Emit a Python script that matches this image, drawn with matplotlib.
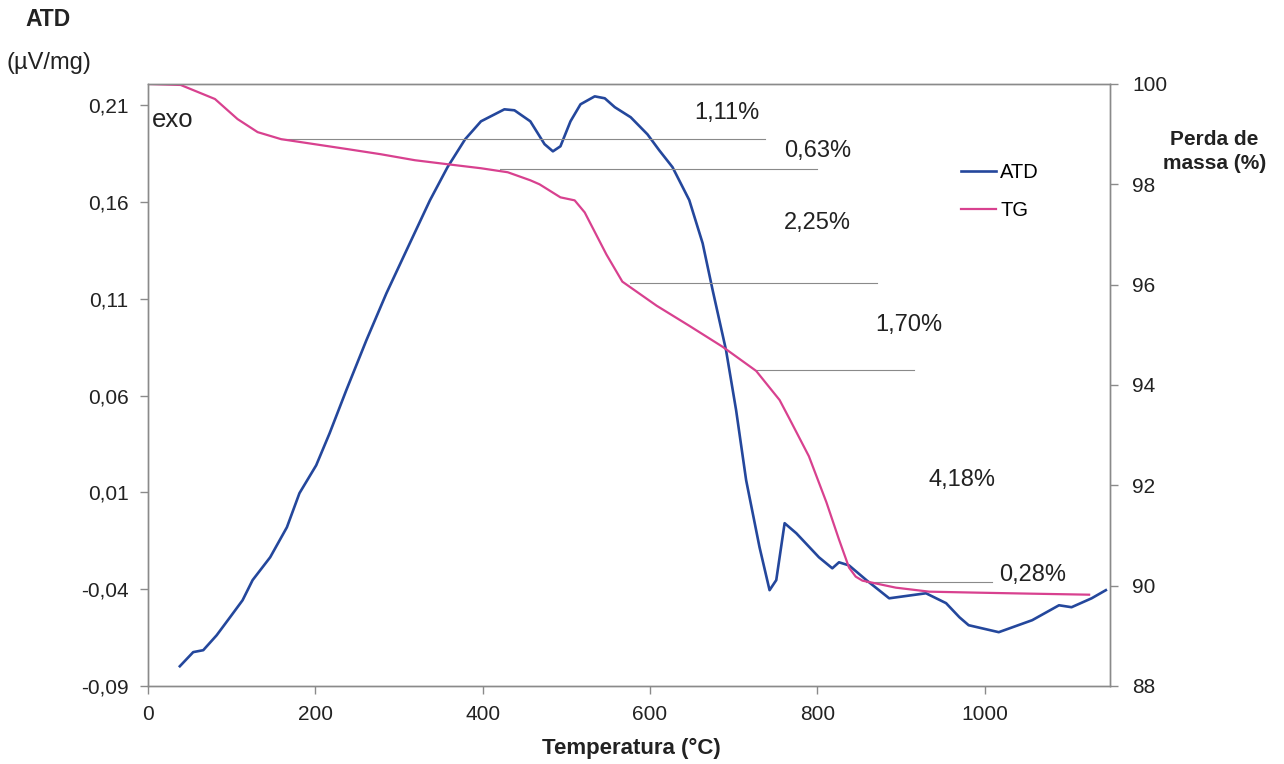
"""
ATD / TG : curva termica diferencial e perda de massa
"""
import matplotlib
matplotlib.use('Agg')
import matplotlib.pyplot as plt

plt.rcParams['font.family'] = ['Liberation Sans', 'DejaVu Sans']

# ATD (uV/mg)
atd_temp = [38, 54, 66, 82, 98, 113, 125, 146, 166, 181, 201, 217, 237, 261, 285, 309,
            337, 358, 379, 398, 426, 438, 457, 474, 484, 493, 505, 517, 534, 546, 558,
            577, 597, 611, 627, 647, 663, 675, 691, 703, 715, 731, 743, 751, 761, 775,
            802, 818, 826, 838, 859, 886, 913, 930, 954, 970, 981, 1017, 1057, 1089,
            1104, 1128, 1145]
atd_val = [-0.0798, -0.0725, -0.0715, -0.0638, -0.0545, -0.0457, -0.0353, -0.0235,
           -0.0080, 0.0096, 0.0240, 0.0405, 0.0628, 0.0886, 0.1129, 0.1351, 0.1609,
           0.1780, 0.1924, 0.2017, 0.2079, 0.2074, 0.2017, 0.1899, 0.1862, 0.1888,
           0.2017, 0.2105, 0.2146, 0.2136, 0.2090, 0.2038, 0.1950, 0.1868, 0.1780,
           0.1610, 0.1387, 0.1144, 0.0834, 0.0525, 0.0163, -0.0183, -0.0405, -0.0353,
           -0.0059, -0.0111, -0.0235, -0.0292, -0.0261, -0.0277, -0.0354, -0.0447,
           -0.0431, -0.0421, -0.0472, -0.0545, -0.0586, -0.0622, -0.0560, -0.0483,
           -0.0493, -0.0447, -0.0405]

# TG (% massa)
tg_temp = [0, 39, 80, 107, 131, 159, 199, 239, 278, 319, 358, 398, 430, 457, 468, 493,
           510, 522, 548, 567, 608, 647, 687, 727, 755, 767, 790, 811, 826, 838, 846,
           854, 894, 934, 993, 1057, 1125]
tg_val = [100.0, 99.98, 99.7, 99.3, 99.04, 98.9, 98.8, 98.7, 98.6, 98.48, 98.4, 98.32,
          98.24, 98.08, 98.0, 97.74, 97.68, 97.44, 96.6, 96.06, 95.58, 95.18, 94.76,
          94.28, 93.7, 93.32, 92.58, 91.66, 90.92, 90.36, 90.18, 90.1, 89.96, 89.88,
          89.86, 89.84, 89.82]

# patamares e perdas de massa
step_level = [98.9, 98.3, 96.04, 94.3, 90.08]
step_start = [159, 421, 576, 727, 858]
step_end = [737, 800, 872, 916, 1009]
loss_labels = ['1,11%', '0,63%', '2,25%', '1,70%', '4,18%', '0,28%']
loss_x = [692, 800, 800, 910, 973, 1058]
loss_y = [99.42, 98.66, 97.22, 95.2, 92.1, 90.22]

x_ticks = [0, 200, 400, 600, 800, 1000]
left_ticks = [-0.09, -0.04, 0.01, 0.06, 0.11, 0.16, 0.21]
left_labels = ['-0,09', '-0,04', '0,01', '0,06', '0,11', '0,16', '0,21']
right_ticks = [88, 90, 92, 94, 96, 98, 100]

blue = '#24479c'
pink = '#d8418f'
grey = '#8a8a8a'

fig = plt.figure(figsize=(12.84, 7.64), dpi=100)
ax = fig.add_axes([0.1153, 0.1021, 0.7492, 0.788])
ax2 = ax.twinx()

l1, = ax.plot(atd_temp, atd_val, color=blue, lw=1.9, label='ATD')
for lev, a, b in zip(step_level, step_start, step_end):
    ax2.plot([a, b], [lev, lev], color=grey, lw=0.8)
l2, = ax2.plot(tg_temp, tg_val, color=pink, lw=1.6, label='TG')

for txt, x, y in zip(loss_labels, loss_x, loss_y):
    ax2.text(x, y, txt, fontsize=17, ha='center', va='center', color='#222222')

ax.set_xlim(0, 1150)
ax.set_ylim(-0.09, 0.221)
ax2.set_ylim(88, 100)

ax.set_xticks(x_ticks)
ax.set_yticks(left_ticks)
ax.set_yticklabels(left_labels)
ax2.set_yticks(right_ticks)

for a in (ax, ax2):
    for s in a.spines.values():
        s.set_color(grey)
        s.set_linewidth(1.0)
    a.tick_params(labelsize=15, colors='#222222', length=6, width=1.0, color=grey)
ax.tick_params(axis='x', pad=8)
ax.tick_params(axis='y', pad=8)
ax2.tick_params(axis='y', pad=10)

ax.text(0.004, 0.94, 'exo', transform=ax.transAxes, fontsize=18.5,
        ha='left', va='center', color='#222222')

fig.text(0.0195, 0.974, 'ATD', fontsize=16.5, fontweight='bold', va='center', color='#222222')
fig.text(0.005, 0.9175, '(µV/mg)', fontsize=17, va='center', color='#222222')
fig.text(0.946, 0.802, 'Perda de\nmassa (%)', fontsize=15, fontweight='bold',
         ha='center', va='center', color='#222222', linespacing=1.35)
fig.text(0.492, 0.021, 'Temperatura (°C)', fontsize=16, fontweight='bold',
         ha='center', va='center', color='#222222')

fig.legend(handles=[l1, l2], loc='center left', bbox_to_anchor=(0.7484, 0.7493),
           frameon=False, fontsize=14.5, handlelength=1.75, handletextpad=0.2,
           labelspacing=0.9, borderpad=0, borderaxespad=0)

fig.savefig('out.png', dpi=100)
